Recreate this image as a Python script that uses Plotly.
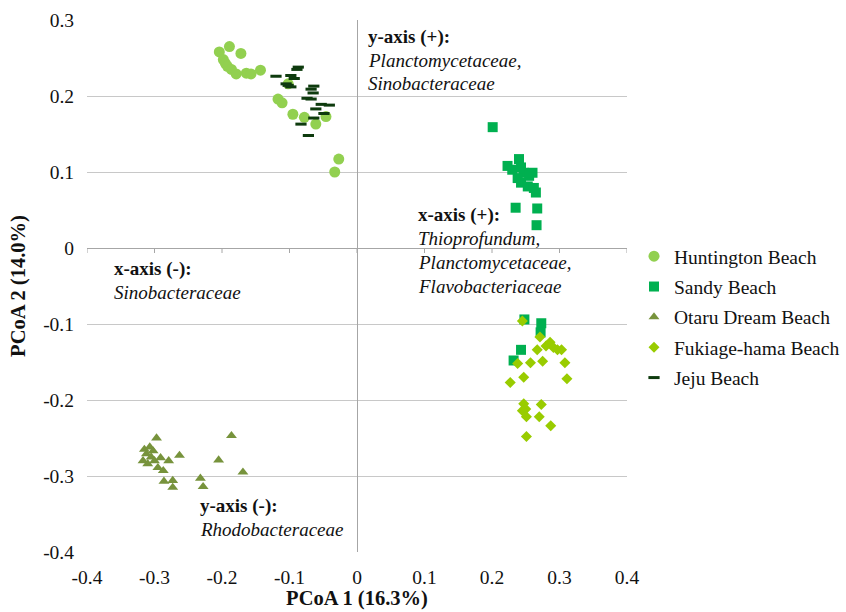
import plotly.graph_objects as go

# PCoA scores per beach (PCoA 1, PCoA 2)
huntington_x = [-0.204, -0.189, -0.172, -0.198, -0.195, -0.192, -0.186, -0.179, -0.164, -0.157,
                -0.143, -0.102, -0.117, -0.111, -0.095, -0.078, -0.061, -0.046, -0.027, -0.033]
huntington_y = [0.258, 0.265, 0.256, 0.248, 0.243, 0.239, 0.235, 0.229, 0.230, 0.229,
                0.234, 0.216, 0.196, 0.191, 0.176, 0.172, 0.163, 0.173, 0.117, 0.100]

sandy_x = [0.201, 0.223, 0.230, 0.240, 0.243, 0.247, 0.238, 0.255, 0.260, 0.243, 0.253,
           0.262, 0.265, 0.235, 0.267, 0.266, 0.248, 0.273, 0.272, 0.243, 0.232]
sandy_y = [0.159, 0.108, 0.103, 0.117, 0.106, 0.099, 0.092, 0.095, 0.099, 0.086, 0.081,
           0.079, 0.073, 0.053, 0.052, 0.030, -0.094, -0.099, -0.111, -0.134, -0.148]

otaru_x = [-0.297, -0.315, -0.307, -0.302, -0.312, -0.305, -0.300, -0.291, -0.279, -0.263, -0.287,
           -0.286, -0.273, -0.273, -0.232, -0.228, -0.205, -0.186, -0.169, -0.317, -0.310, -0.295]
otaru_y = [-0.250, -0.265, -0.262, -0.267, -0.271, -0.275, -0.280, -0.276, -0.280, -0.273, -0.293,
           -0.307, -0.306, -0.315, -0.303, -0.314, -0.279, -0.247, -0.295, -0.280, -0.284, -0.289]

fukiage_x = [0.245, 0.271, 0.286, 0.280, 0.267, 0.291, 0.297, 0.303, 0.238, 0.257, 0.275, 0.308,
             0.227, 0.247, 0.311, 0.247, 0.250, 0.273, 0.251, 0.270, 0.287, 0.251, 0.245]
fukiage_y = [-0.096, -0.117, -0.124, -0.129, -0.134, -0.131, -0.134, -0.134, -0.152, -0.151, -0.149,
             -0.151, -0.177, -0.170, -0.172, -0.205, -0.212, -0.206, -0.222, -0.222, -0.234, -0.248,
             -0.214]

jeju_x = [-0.120, -0.087, -0.089, -0.098, -0.093, -0.105, -0.098, -0.102, -0.064, -0.068,
          -0.065, -0.074, -0.068, -0.053, -0.041, -0.061, -0.049, -0.064, -0.083, -0.072]
jeju_y = [0.226, 0.238, 0.235, 0.227, 0.223, 0.216, 0.212, 0.214, 0.213, 0.209,
          0.204, 0.197, 0.196, 0.189, 0.188, 0.183, 0.177, 0.171, 0.163, 0.148]

x_ticks = [-0.4, -0.3, -0.2, -0.1, 0, 0.1, 0.2, 0.3, 0.4]
x_tick_text = ["-0.4", "-0.3", "-0.2", "-0.1", "0", "0.1", "0.2", "0.3", "0.4"]
y_ticks = [-0.4, -0.3, -0.2, -0.1, 0, 0.1, 0.2, 0.3]
y_tick_text = ["-0.4", "-0.3", "-0.2", "-0.1", "0", "0.1", "0.2", "0.3"]

# Axis interpretation notes: (text, x, y)
notes = [
    ("<b>y-axis (+):</b>", 0.013, 0.278),
    ("<i>Planctomycetaceae,</i>", 0.013, 0.247),
    ("<i>Sinobacteraceae</i>", 0.013, 0.216),
    ("<b>x-axis (+):</b>", 0.087, 0.044),
    ("<i>Thioprofundum,</i>", 0.087, 0.012),
    ("<i>Planctomycetaceae,</i>", 0.087, -0.019),
    ("<i>Flavobacteriaceae</i>", 0.087, -0.050),
    ("<b>x-axis (-):</b>", -0.363, -0.028),
    ("<i>Sinobacteraceae</i>", -0.363, -0.059),
    ("<b>y-axis (-):</b>", -0.235, -0.340),
    ("<i>Rhodobacteraceae</i>", -0.235, -0.371),
]

SERIF = "Liberation Serif"
TEXT = "#111111"

fig = go.Figure()

fig.add_trace(go.Scatter(x=huntington_x, y=huntington_y, mode="markers", name="Huntington Beach",
                         legendgroup="a",
                         marker=dict(symbol="circle", size=11, color="#92d050")))
fig.add_trace(go.Scatter(x=sandy_x, y=sandy_y, mode="markers", name="Sandy Beach",
                         legendgroup="b",
                         marker=dict(symbol="square", size=10, color="#00b050")))
fig.add_trace(go.Scatter(x=otaru_x, y=otaru_y, mode="markers", name="Otaru Dream Beach",
                         legendgroup="c",
                         marker=dict(symbol="triangle-up", size=9.5, color="#77933c")))
fig.add_trace(go.Scatter(x=fukiage_x, y=fukiage_y, mode="markers", name="Fukiage-hama Beach",
                         legendgroup="d",
                         marker=dict(symbol="diamond", size=8.5, color="#99cc00")))
fig.add_trace(go.Scatter(x=jeju_x, y=jeju_y, mode="markers", name="Jeju Beach",
                         legendgroup="e",
                         marker=dict(symbol="line-ew", size=8, color="#0e3b0e",
                                     line=dict(width=3, color="#0e3b0e"))))

for text, nx, ny in notes:
    fig.add_annotation(x=nx, y=ny, xref="x", yref="y", text=text, showarrow=False,
                       xanchor="left", yanchor="middle",
                       font=dict(family=SERIF, size=19, color=TEXT))

# small tick marks hanging below the horizontal axis line at y = 0
for tx in x_ticks:
    fig.add_shape(type="line", xref="x", yref="y", x0=tx, x1=tx,
                  ysizemode="pixel", yanchor=0, y0=0, y1=-5,
                  line=dict(color="#a6a6a6", width=1))

fig.update_layout(
    width=846, height=612,
    margin=dict(l=87, r=219, t=20, b=60, autoexpand=False),
    paper_bgcolor="white", plot_bgcolor="white",
    font=dict(family=SERIF, size=19, color=TEXT),
    showlegend=True,
    legend=dict(x=(634 - 87) / (846 - 87 - 219), xanchor="left",
                y=(552 - 237) / (552 - 20), yanchor="top",
                font=dict(family=SERIF, size=19.5, color=TEXT),
                tracegroupgap=2, bgcolor="rgba(0,0,0,0)"),
)

fig.update_xaxes(range=[-0.4, 0.4], tickvals=x_ticks, ticktext=x_tick_text,
                 tickfont=dict(family=SERIF, size=19.5, color=TEXT),
                 showgrid=False, zeroline=True, zerolinecolor="#a6a6a6", zerolinewidth=1,
                 showline=False, ticks="", ticklabelstandoff=11,
                 title=dict(text="<b>PCoA 1 (16.3%)</b>",
                            font=dict(family=SERIF, size=20.5, color=TEXT), standoff=4))
fig.update_yaxes(range=[-0.4, 0.3], tickvals=y_ticks, ticktext=y_tick_text,
                 tickfont=dict(family=SERIF, size=19.5, color=TEXT),
                 showgrid=True, gridcolor="#c8c8c8", gridwidth=1,
                 zeroline=True, zerolinecolor="#a6a6a6", zerolinewidth=1,
                 showline=False, ticks="", ticklabelstandoff=12,
                 title=dict(text="<b>PCoA 2 (14.0%)</b>",
                            font=dict(family=SERIF, size=20.5, color=TEXT), standoff=11))

fig.write_html("out.html")
